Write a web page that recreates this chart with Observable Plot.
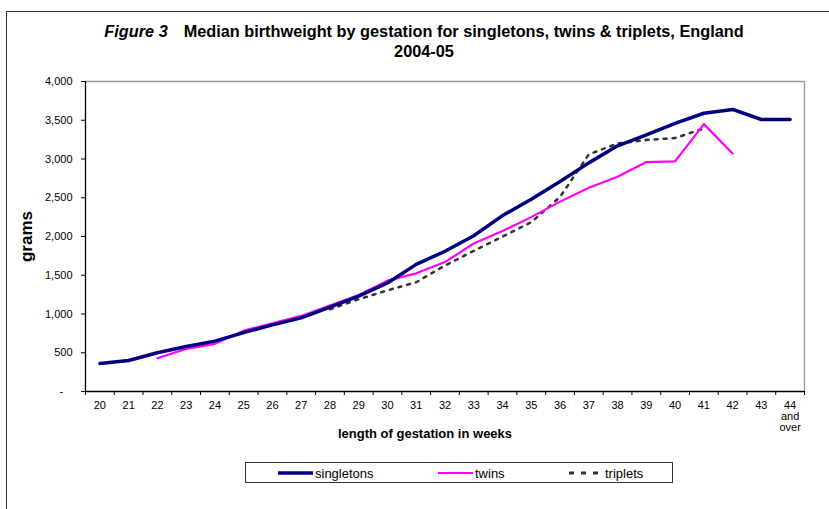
<!DOCTYPE html>
<html>
<head>
<meta charset="utf-8">
<script src="https://cdn.jsdelivr.net/npm/d3@7"></script>
<script src="https://cdn.jsdelivr.net/npm/@observablehq/plot@0.6"></script>
<style>
  html, body { margin: 0; padding: 0; background: #fff; overflow: hidden; }
  body { width: 829px; height: 509px; position: relative; font-family: "Liberation Sans", Arial, sans-serif; }
  #frame { position: absolute; left: 6px; top: 11px; width: 900px; height: 600px; border: 1.5px solid #333; box-sizing: border-box; }
  #title { position: absolute; left: 0; top: 21px; width: 848px; text-align: center; font-weight: bold; font-size: 16.3px; line-height: 20px; color: #000; }
  #title i { margin-right: 16px; }
  #chart { position: absolute; left: 0; top: 64px; }
  #legend { position: absolute; left: 245px; top: 462px; width: 428px; height: 21px; border: 1px solid #333; box-sizing: border-box; font-size: 13px; color: #000; }
  .item { position: absolute; top: 1px; display: flex; align-items: center; height: 18px; }
  .item svg { display: block; margin-right: 1px; }
</style>
</head>
<body>
<div id="frame"></div>
<div id="title"><i>Figure 3</i>Median birthweight by gestation for singletons, twins &amp; triplets, England<br>2004-05</div>
<div id="chart"></div>
<div id="legend"></div>
<script>
// ---- data ----
const weeks = [20,21,22,23,24,25,26,27,28,29,30,31,32,33,34,35,36,37,38,39,40,41,42,43,44];
const weekLabels = ["20","21","22","23","24","25","26","27","28","29","30","31","32","33","34","35","36","37","38","39","40","41","42","43","44\nand\nover"];
const singletons = [360,400,500,580,650,760,860,950,1090,1230,1400,1640,1810,2010,2270,2480,2710,2950,3170,3310,3460,3590,3640,3510,3510];
const twins = [null,null,430,550,615,785,880,975,1110,1245,1430,1525,1670,1910,2070,2250,2450,2630,2770,2960,2970,3450,3070,null,null];
const triplets = [null,null,null,null,null,null,null,null,1060,1190,1305,1410,1625,1815,2000,2185,2510,3060,3200,3245,3270,3395,null,null,null];
const yTicks = [0,500,1000,1500,2000,2500,3000,3500,4000];
const seriesNames = ["singletons","twins","triplets"];
const seriesColors = ["#000080","#FF00FF","#333333"];

const toRows = (vals) => weeks.map((w, i) => ({week: w, value: vals[i]})).filter(d => d.value != null);
const boundaries = weeks.map(w => w - 0.5).concat([weeks[weeks.length - 1] + 0.5]);
const xMin = boundaries[0], xMax = boundaries[boundaries.length - 1];
const fmt = d3.format(",");

const chart = Plot.plot({
  width: 829,
  height: 380,
  marginLeft: 85,
  marginRight: 25,
  marginTop: 17,
  marginBottom: 53,
  style: {fontFamily: "'Liberation Sans', Arial, sans-serif", fontSize: "11px", color: "#000", background: "transparent", overflow: "visible"},
  x: {domain: [xMin, xMax], label: null},
  y: {domain: [0, 4000], label: null},
  marks: [
    // plot frame (grey top & right)
    Plot.ruleY([yTicks[yTicks.length - 1]], {stroke: "#999", strokeWidth: 1.3}),
    Plot.ruleX([xMax], {stroke: "#999", strokeWidth: 1.3}),
    // axes
    Plot.axisX({ticks: boundaries, tickFormat: () => "", tickSize: 4, stroke: "#000", label: null}),
    Plot.axisX({ticks: weeks, tickSize: 0, tickPadding: 10, tickFormat: (d) => weekLabels[weeks.indexOf(d)], lineAnchor: "top", fontSize: 11, label: null}),
    Plot.axisY({ticks: yTicks, tickSize: 4, tickPadding: 9, tickFormat: d => d === 0 ? "" : fmt(d), fontSize: 11, label: null}),
    Plot.text([0], {y: d => d, frameAnchor: "left", dx: -26, text: () => "-", fontSize: 11}),
    Plot.ruleX([xMin], {stroke: "#000", strokeWidth: 1.3}),
    Plot.ruleY([0], {stroke: "#000", strokeWidth: 1.3}),
    // axis titles
    Plot.text(["grams"], {frameAnchor: "left", textAnchor: "middle", dx: -59, rotate: -90, fontSize: 17, fontWeight: "bold", text: d => d}),
    Plot.text(["length of gestation in weeks"], {frameAnchor: "bottom", textAnchor: "middle", dx: -20, dy: 46, lineAnchor: "bottom", fontSize: 13, fontWeight: "bold", text: d => d}),
    // series
    Plot.line(toRows(triplets), {x: "week", y: "value", stroke: seriesColors[2], strokeWidth: 2.5, strokeDasharray: "3,6"}),
    Plot.line(toRows(twins), {x: "week", y: "value", stroke: seriesColors[1], strokeWidth: 2.2}),
    Plot.line(toRows(singletons), {x: "week", y: "value", stroke: seriesColors[0], strokeWidth: 3.5})
  ]
});
document.getElementById("chart").appendChild(chart);

// legend
const legend = document.getElementById("legend");
const itemLeft = [32, 192, 322];
const swatchStyles = [
  {w: 3.5, dash: null, x1: 0, x2: 35},
  {w: 2.2, dash: null, x1: 0, x2: 35},
  {w: 3, dash: "5,7", x1: 1, x2: 30}
];
seriesNames.forEach((name, i) => {
  const item = document.createElement("div");
  item.className = "item";
  item.style.left = itemLeft[i] + "px";
  const s = swatchStyles[i];
  item.innerHTML = `<svg width="36" height="10"><line x1="${s.x1}" y1="5" x2="${s.x2}" y2="5" stroke="${seriesColors[i]}" stroke-width="${s.w}" ${s.dash ? `stroke-dasharray="${s.dash}"` : ""}/></svg><span>${name}</span>`;
  legend.appendChild(item);
});
</script>
</body>
</html>
